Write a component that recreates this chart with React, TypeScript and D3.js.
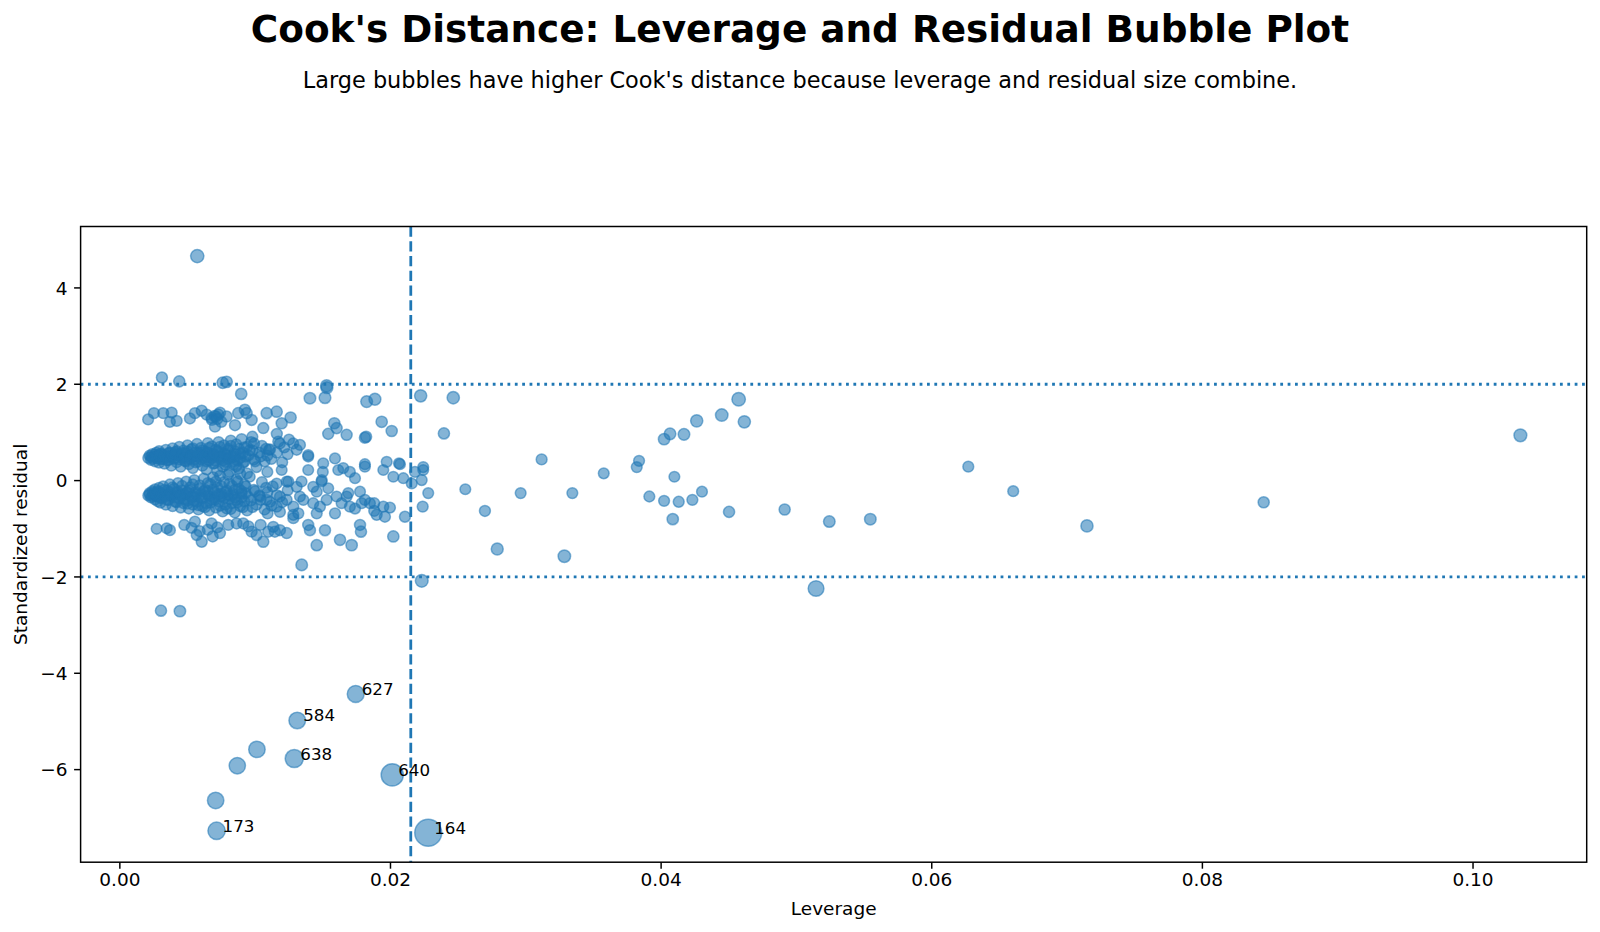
import { scaleLinear } from "d3";
import type { ReactElement } from "react";

// [leverage, standardized residual]
type Obs = readonly [number, number];

const upperBand: ReadonlyArray<Obs> = [
  [0.0021, 0.47], [0.0022, 0.52], [0.0023, 0.43], [0.0024, 0.55], [0.0025, 0.49], [0.0026, 0.40],
  [0.0027, 0.58], [0.0028, 0.46], [0.0028, 0.52], [0.0029, 0.37], [0.0029, 0.61], [0.0030, 0.44],
  [0.0031, 0.55], [0.0032, 0.49], [0.0033, 0.35], [0.0034, 0.64], [0.0035, 0.42], [0.0036, 0.57],
  [0.0037, 0.50], [0.0038, 0.31], [0.0039, 0.67], [0.0040, 0.45], [0.0041, 0.59], [0.0042, 0.38],
  [0.0043, 0.53], [0.0044, 0.70], [0.0045, 0.29], [0.0046, 0.48], [0.0047, 0.62], [0.0048, 0.41],
  [0.0049, 0.56], [0.0050, 0.73], [0.0051, 0.34], [0.0052, 0.51], [0.0053, 0.65], [0.0054, 0.26],
  [0.0055, 0.44], [0.0056, 0.58], [0.0057, 0.76], [0.0058, 0.39], [0.0059, 0.53], [0.0060, 0.68],
  [0.0061, 0.31], [0.0062, 0.47], [0.0063, 0.60], [0.0064, 0.23], [0.0065, 0.78], [0.0066, 0.42],
  [0.0067, 0.55], [0.0068, 0.71], [0.0069, 0.35], [0.0070, 0.50], [0.0071, 0.64], [0.0072, 0.20],
  [0.0073, 0.80], [0.0074, 0.45], [0.0075, 0.58], [0.0076, 0.29], [0.0077, 0.73], [0.0078, 0.39],
  [0.0079, 0.53], [0.0080, 0.66], [0.0081, 0.18], [0.0082, 0.83], [0.0083, 0.48], [0.0084, 0.33],
  [0.0085, 0.61], [0.0086, 0.75], [0.0087, 0.42], [0.0088, 0.25], [0.0089, 0.56], [0.0090, 0.86],
  [0.0091, 0.37], [0.0092, 0.69], [0.0093, 0.50], [0.0094, 0.15], [0.0096, 0.63], [0.0097, 0.80],
  [0.0099, 0.44], [0.0101, 0.28], [0.0103, 0.58], [0.0105, 0.72], [0.0107, 0.40], [0.0109, 0.52],
  [0.0111, 0.65], [0.0035, 0.50], [0.0045, 0.55], [0.0055, 0.50], [0.0065, 0.48], [0.0075, 0.50],
  [0.0085, 0.50], [0.0050, 0.45], [0.0060, 0.58], [0.0070, 0.42], [0.0080, 0.45], [0.0040, 0.52],
];

const upperBandCore: ReadonlyArray<Obs> = [
  [0.0023, 0.50], [0.0024, 0.46], [0.0026, 0.54], [0.0027, 0.48], [0.0029, 0.51], [0.0030, 0.56],
  [0.0032, 0.45], [0.0033, 0.53], [0.0034, 0.48], [0.0036, 0.43], [0.0037, 0.58], [0.0038, 0.51],
  [0.0040, 0.47], [0.0041, 0.55], [0.0042, 0.61], [0.0044, 0.44], [0.0045, 0.50], [0.0046, 0.57],
  [0.0048, 0.49], [0.0049, 0.40], [0.0050, 0.60], [0.0052, 0.46], [0.0053, 0.53], [0.0054, 0.67],
  [0.0056, 0.38], [0.0057, 0.50], [0.0058, 0.57], [0.0060, 0.44], [0.0061, 0.63], [0.0062, 0.52],
  [0.0064, 0.40], [0.0065, 0.58], [0.0066, 0.68], [0.0068, 0.47], [0.0069, 0.55], [0.0070, 0.36],
  [0.0072, 0.61], [0.0073, 0.50], [0.0074, 0.70], [0.0076, 0.42], [0.0077, 0.56], [0.0078, 0.33],
  [0.0080, 0.62], [0.0081, 0.48], [0.0082, 0.72], [0.0084, 0.40], [0.0085, 0.55], [0.0086, 0.30],
  [0.0088, 0.66], [0.0089, 0.47], [0.0091, 0.58], [0.0092, 0.39], [0.0094, 0.70], [0.0095, 0.52],
  [0.0098, 0.62], [0.0100, 0.40], [0.0104, 0.50], [0.0108, 0.66], [0.0112, 0.45], [0.0116, 0.58],
  [0.0120, 0.38], [0.0124, 0.55],
];

const lowerBand: ReadonlyArray<Obs> = [
  [0.0021, -0.31], [0.0022, -0.26], [0.0023, -0.35], [0.0024, -0.22], [0.0025, -0.30], [0.0026, -0.39],
  [0.0026, -0.18], [0.0027, -0.27], [0.0028, -0.43], [0.0028, -0.33], [0.0029, -0.15], [0.0029, -0.24],
  [0.0030, -0.46], [0.0031, -0.36], [0.0032, -0.12], [0.0033, -0.29], [0.0034, -0.50], [0.0035, -0.21],
  [0.0036, -0.40], [0.0037, -0.08], [0.0038, -0.32], [0.0039, -0.53], [0.0040, -0.17], [0.0041, -0.44],
  [0.0042, -0.26], [0.0043, -0.05], [0.0044, -0.37], [0.0045, -0.56], [0.0046, -0.20], [0.0047, -0.47],
  [0.0048, -0.29], [0.0049, -0.02], [0.0050, -0.41], [0.0051, -0.58], [0.0052, -0.14], [0.0053, -0.33],
  [0.0054, -0.50], [0.0055, 0.01], [0.0056, -0.24], [0.0057, -0.44], [0.0058, -0.60], [0.0059, -0.10],
  [0.0060, -0.36], [0.0061, -0.53], [0.0062, 0.04], [0.0063, -0.19], [0.0064, -0.47], [0.0065, -0.30],
  [0.0066, -0.62], [0.0067, -0.07], [0.0068, -0.39], [0.0069, 0.07], [0.0070, -0.25], [0.0071, -0.56],
  [0.0072, -0.14], [0.0073, -0.43], [0.0074, 0.10], [0.0075, -0.33], [0.0076, -0.64], [0.0077, -0.03],
  [0.0078, -0.50], [0.0079, -0.21], [0.0080, 0.12], [0.0081, -0.38], [0.0082, -0.59], [0.0083, -0.11],
  [0.0084, -0.28], [0.0085, -0.66], [0.0086, 0.02], [0.0087, -0.45], [0.0088, -0.17], [0.0089, 0.14],
  [0.0090, -0.35], [0.0091, -0.55], [0.0092, -0.08], [0.0093, -0.26], [0.0094, -0.62], [0.0096, 0.08],
  [0.0097, -0.41], [0.0099, -0.19], [0.0101, -0.50], [0.0103, -0.31], [0.0105, -0.03], [0.0107, -0.60],
  [0.0109, -0.24], [0.0111, -0.44], [0.0113, -0.12], [0.0030, -0.28], [0.0040, -0.30], [0.0050, -0.25],
  [0.0060, -0.28], [0.0070, -0.35], [0.0080, -0.30], [0.0090, -0.22], [0.0035, -0.30], [0.0045, -0.28],
  [0.0055, -0.33], [0.0065, -0.22], [0.0075, -0.27], [0.0085, -0.35],
];

const lowerBandCore: ReadonlyArray<Obs> = [
  [0.0022, -0.29], [0.0024, -0.33], [0.0025, -0.25], [0.0027, -0.31], [0.0028, -0.22], [0.0030, -0.36],
  [0.0031, -0.27], [0.0033, -0.19], [0.0034, -0.33], [0.0035, -0.40], [0.0037, -0.24], [0.0038, -0.30],
  [0.0039, -0.14], [0.0041, -0.35], [0.0042, -0.45], [0.0043, -0.23], [0.0045, -0.31], [0.0046, -0.11],
  [0.0047, -0.38], [0.0049, -0.26], [0.0050, -0.48], [0.0051, -0.20], [0.0053, -0.34], [0.0054, -0.08],
  [0.0055, -0.42], [0.0057, -0.28], [0.0058, -0.51], [0.0059, -0.17], [0.0061, -0.37], [0.0062, -0.23],
  [0.0063, -0.55], [0.0065, -0.05], [0.0066, -0.32], [0.0067, -0.46], [0.0069, -0.18], [0.0070, -0.40],
  [0.0071, -0.02], [0.0073, -0.29], [0.0074, -0.52], [0.0075, -0.12], [0.0077, -0.36], [0.0078, -0.24],
  [0.0079, -0.58], [0.0081, -0.06], [0.0082, -0.31], [0.0083, -0.47], [0.0085, -0.19], [0.0086, -0.40],
  [0.0087, -0.02], [0.0089, -0.53], [0.0090, -0.27], [0.0092, -0.43], [0.0093, -0.12], [0.0095, -0.34],
  [0.0098, -0.55], [0.0100, -0.22], [0.0104, -0.40], [0.0108, -0.15], [0.0112, -0.52], [0.0116, -0.30],
  [0.0120, -0.45], [0.0124, -0.20],
];

const upperRow: ReadonlyArray<Obs> = [
  [0.00209, 1.27], [0.00252, 1.40], [0.00321, 1.40], [0.00383, 1.41], [0.0037, 1.22], [0.0042, 1.24],
  [0.00518, 1.29], [0.00555, 1.40], [0.00605, 1.45], [0.00642, 1.37], [0.00678, 1.30], [0.00703, 1.12],
  [0.00727, 1.37], [0.00789, 1.33], [0.00875, 1.40], [0.00924, 1.47], [0.00937, 1.40], [0.00974, 1.26],
  [0.01085, 1.40], [0.01159, 1.43], [0.01196, 1.19], [0.01262, 1.31], [0.0106, 1.09], [0.00851, 1.15],
  [0.0074, 1.41], [0.0070, 1.34], [0.0068, 1.26], [0.0071, 1.33], [0.0075, 1.22], [0.0072, 1.28],
];

const lowerRow: ReadonlyArray<Obs> = [
  [0.00272, -1.0], [0.00346, -0.99], [0.0037, -1.03], [0.00476, -0.92], [0.00555, -0.85], [0.00568, -1.13],
  [0.00605, -1.27], [0.00678, -0.89], [0.00686, -1.16], [0.0074, -1.09], [0.00801, -0.92], [0.00863, -0.89],
  [0.00912, -0.89], [0.00974, -1.06], [0.01011, -1.13], [0.0106, -1.27], [0.01097, -1.06], [0.01134, -0.96],
  [0.0059, -1.05], [0.0053, -0.98], [0.0065, -1.02], [0.0072, -0.97], [0.0095, -0.95], [0.0104, -0.92],
];

const midScatter: ReadonlyArray<Obs> = [
  [0.00897, 1.80], [0.01405, 1.71], [0.01516, 1.72], [0.01528, 1.97], [0.0153, 1.93], [0.01824, 1.64],
  [0.01885, 1.69], [0.01585, 1.19], [0.01602, 1.09], [0.0154, 0.97], [0.01676, 0.95], [0.01811, 0.89],
  [0.0182, 0.91], [0.01935, 1.22], [0.02009, 1.03], [0.01171, 0.81], [0.01215, 0.69], [0.01331, 0.74],
  [0.01307, 0.64], [0.01392, 0.50], [0.01503, 0.36], [0.0159, 0.46], [0.01811, 0.34], [0.01972, 0.39],
  [0.02063, 0.36], [0.02242, 0.28], [0.00979, 0.91], [0.00992, 0.77], [0.01103, 0.64], [0.01182, 0.77],
  [0.01281, 0.77], [0.01392, 0.53], [0.0116, 0.97], [0.0125, 0.85],
  [0.0109, 0.18], [0.01159, -0.06], [0.01233, -0.02], [0.01307, -0.13], [0.01343, -0.02], [0.01429, -0.13],
  [0.01491, -0.02], [0.0150, 0.18], [0.01614, 0.22], [0.0170, 0.18], [0.01196, 0.22], [0.01392, 0.22],
  [0.01492, 0.01], [0.01651, 0.26], [0.01738, 0.05], [0.01811, 0.29], [0.01947, 0.22], [0.02021, 0.08],
  [0.02095, 0.05], [0.02157, -0.06], [0.02181, 0.18], [0.02242, 0.22], [0.02231, 0.01], [0.0207, 0.34],
  [0.01245, -0.02],
  [0.01036, -0.33], [0.01085, -0.40], [0.01159, -0.54], [0.01183, -0.33], [0.01233, -0.40], [0.01282, -0.54],
  [0.01331, -0.33], [0.01356, -0.40], [0.01429, -0.47], [0.01479, -0.54], [0.01528, -0.40], [0.01602, -0.33],
  [0.01676, -0.33], [0.0170, -0.54], [0.01738, -0.58], [0.01787, -0.47], [0.01811, -0.40], [0.01848, -0.47],
  [0.0188, -0.63], [0.01898, -0.71], [0.01947, -0.54], [0.01996, -0.56], [0.01959, -0.75], [0.02107, -0.75],
  [0.02279, -0.26], [0.02238, -0.54], [0.0188, -0.47], [0.01092, -0.68], [0.01183, -0.65], [0.01282, -0.71],
  [0.01455, -0.68], [0.0159, -0.68], [0.01639, -0.47], [0.01688, -0.26], [0.01455, -0.23], [0.0154, -0.16],
  [0.01775, -0.23],
  [0.01146, -1.06], [0.01183, -1.03], [0.01233, -1.09], [0.01282, -0.78], [0.01319, -0.68], [0.01392, -0.92],
  [0.01405, -1.03], [0.01516, -1.03], [0.01455, -1.34], [0.01627, -1.23], [0.01713, -1.34], [0.01775, -0.92],
  [0.01782, -1.06], [0.01344, -1.75], [0.02021, -1.16],
];

const strays: ReadonlyArray<Obs> = [
  [0.00572, 4.66], [0.00311, 2.14], [0.00439, 2.06], [0.0076, 2.03], [0.00789, 2.05],
  [0.02223, 1.76], [0.02464, 1.72], [0.02395, 0.98], [0.00304, -2.70], [0.00444, -2.71],
];

const highLeverage: ReadonlyArray<Obs> = [
  [0.02553, -0.18], [0.02698, -0.63], [0.02962, -0.26], [0.03117, 0.44], [0.03344, -0.26], [0.02789, -1.42],
  [0.03285, -1.57], [0.02231, -2.08], [0.03576, 0.15], [0.03837, 0.41], [0.0382, 0.28], [0.03913, -0.33],
  [0.04022, 0.86], [0.04066, 0.97], [0.04169, 0.96], [0.04263, 1.24], [0.04448, 1.36], [0.04573, 1.69],
  [0.04615, 1.22], [0.04022, -0.42], [0.04098, 0.08], [0.0413, -0.44], [0.04231, -0.40], [0.04302, -0.23],
  [0.04086, -0.80], [0.04502, -0.65], [0.04913, -0.60], [0.05243, -0.85], [0.05546, -0.80], [0.05145, -2.24],
  [0.0627, 0.29], [0.06602, -0.22], [0.07147, -0.94], [0.08453, -0.45], [0.1035, 0.94],
];

const unlabeledInfluential: ReadonlyArray<Obs> = [
  [0.01013, -5.58], [0.00868, -5.92], [0.00708, -6.64],
];

const labelIds = ["627", "584", "638", "640", "164", "173"];
const labelLeverage = [0.01743, 0.01311, 0.01289, 0.02013, 0.02279, 0.00715];
const labelResidual = [-4.43, -4.98, -5.77, -6.11, -7.31, -7.27];

const xTickValues = [0, 0.02, 0.04, 0.06, 0.08, 0.1];
const yTickValues = [-6, -4, -2, 0, 2, 4];

const leverageCutoff = 0.0215;
const residualCutoff = 2;
const N_PARAMS = 4;

const WIDTH = 1600;
const HEIGHT = 932;
const margin = { top: 226.5, right: 13.3, bottom: 69.8, left: 80.6 } as const;

const BLUE = "#1f77b4";
const FONT = "'DejaVu Sans', sans-serif";

const cooksDistance = (h: number, r: number): number => ((r * r) / N_PARAMS) * (h / (1 - h));

export default function App(): ReactElement {
  const plotBottom = HEIGHT - margin.bottom;
  const plotRight = WIDTH - margin.right;

  const xScale = scaleLinear().domain([-0.0029, 0.1084]).range([margin.left, plotRight]);
  const yScale = scaleLinear().domain([-7.922, 5.275]).range([plotBottom, margin.top]);
  // bubble area (px^2) grows linearly with Cook's distance
  const areaScale = scaleLinear().domain([0, 1]).range([28.5, 520.5]);

  const labeled: ReadonlyArray<Obs> = labelLeverage.map((h, i) => [h, labelResidual[i]] as const);
  const points: ReadonlyArray<Obs> = [
    ...upperBand,
    ...upperBandCore,
    ...lowerBand,
    ...lowerBandCore,
    ...upperRow,
    ...lowerRow,
    ...midScatter,
    ...strays,
    ...highLeverage,
    ...unlabeledInfluential,
    ...labeled,
  ];

  const fmtX = (v: number): string => v.toFixed(2);
  const fmtY = (v: number): string => (v < 0 ? `\u2212${Math.abs(v)}` : `${v}`);

  return (
    <svg
      width={WIDTH}
      height={HEIGHT}
      viewBox={`0 0 ${WIDTH} ${HEIGHT}`}
      style={{ position: "absolute", left: 0, top: 0, background: "#ffffff" }}
      fontFamily={FONT}
    >
      <defs>
        <clipPath id="plot-clip">
          <rect x={margin.left} y={margin.top} width={plotRight - margin.left} height={plotBottom - margin.top} />
        </clipPath>
      </defs>

      <text x={WIDTH / 2} y={41.5} textAnchor="middle" fontSize={37.4} fontWeight="bold" fill="#000">
        Cook's Distance: Leverage and Residual Bubble Plot
      </text>
      <text x={WIDTH / 2} y={87.5} textAnchor="middle" fontSize={22.4} fill="#000">
        Large bubbles have higher Cook's distance because leverage and residual size combine.
      </text>

      <g clipPath="url(#plot-clip)">
        {points.map(([h, r], i) => (
          <circle
            key={`pt-${i}`}
            cx={xScale(h)}
            cy={yScale(r)}
            r={Math.sqrt(areaScale(cooksDistance(h, r)))}
            fill={BLUE}
            fillOpacity={0.55}
            stroke={BLUE}
            strokeOpacity={0.55}
            strokeWidth={1.5}
          />
        ))}

        <line
          x1={xScale(leverageCutoff)}
          x2={xScale(leverageCutoff)}
          y1={margin.top}
          y2={plotBottom}
          stroke={BLUE}
          strokeWidth={2.78}
          strokeDasharray="10.3 4.45"
        />
        {[residualCutoff, -residualCutoff].map((v) => (
          <line
            key={`h-${v}`}
            x1={margin.left}
            x2={plotRight}
            y1={yScale(v)}
            y2={yScale(v)}
            stroke={BLUE}
            strokeWidth={2.78}
            strokeDasharray="2.78 4.58"
          />
        ))}
      </g>

      {labelIds.map((id, i) => (
        <text
          key={`lbl-${id}`}
          x={xScale(labelLeverage[i]) + 6}
          y={yScale(labelResidual[i]) + 1}
          fontSize={16.7}
          fill="#000"
        >
          {id}
        </text>
      ))}

      <rect
        x={margin.left}
        y={margin.top}
        width={plotRight - margin.left}
        height={plotBottom - margin.top}
        fill="none"
        stroke="#000"
        strokeWidth={1.48}
      />

      {xTickValues.map((t) => {
        const x = xScale(t);
        return (
          <g key={`xt-${t}`}>
            <line x1={x} x2={x} y1={plotBottom} y2={plotBottom + 6.5} stroke="#000" strokeWidth={1.48} />
            <text x={x} y={886} textAnchor="middle" fontSize={18.5} fill="#000">
              {fmtX(t)}
            </text>
          </g>
        );
      })}

      {yTickValues.map((t) => {
        const y = yScale(t);
        return (
          <g key={`yt-${t}`}>
            <line x1={margin.left - 6.5} x2={margin.left} y1={y} y2={y} stroke="#000" strokeWidth={1.48} />
            <text x={margin.left - 13} y={y + 6.7} textAnchor="end" fontSize={18.5} fill="#000">
              {fmtY(t)}
            </text>
          </g>
        );
      })}

      <text x={(margin.left + plotRight) / 2} y={915} textAnchor="middle" fontSize={18.5} fill="#000">
        Leverage
      </text>
      <text
        transform={`translate(27, ${(margin.top + plotBottom) / 2}) rotate(-90)`}
        textAnchor="middle"
        fontSize={18.5}
        fill="#000"
      >
        Standardized residual
      </text>
    </svg>
  );
}
